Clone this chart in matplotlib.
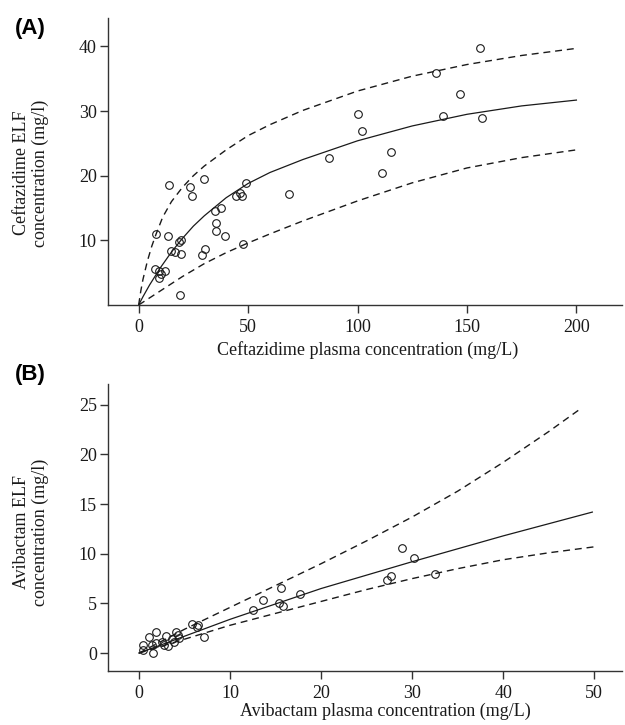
import matplotlib
matplotlib.use("Agg")
import matplotlib.pyplot as plt

plt.rcParams["font.family"] = ["Liberation Serif", "DejaVu Serif"]

# Panel A: ceftazidime observations (plasma, ELF)
cef_plasma = [13.7, 23.3, 29.8, 24.3, 49.2, 44.4, 46.4, 47.3, 68.9, 34.9,
              37.7, 35.4, 35.2, 39.6, 8.1, 13.4, 19.2, 18.3, 14.8, 16.6,
              19.2, 30.3, 28.9, 47.8, 7.3, 9.3, 11.9, 9.3, 10.2, 18.9,
              86.9, 100.1, 102.1, 115.1, 111.1, 135.9, 147.0, 139.1, 155.8, 156.9]
cef_elf = [18.5, 18.3, 19.5, 16.9, 18.9, 16.9, 17.4, 16.9, 17.2, 14.5,
           15.0, 12.7, 11.5, 10.6, 11.0, 10.7, 10.0, 9.7, 8.4, 8.2,
           7.9, 8.7, 7.8, 9.4, 5.5, 5.2, 5.3, 4.2, 4.8, 1.5,
           22.7, 29.5, 26.9, 23.7, 20.4, 35.9, 32.7, 29.3, 39.7, 28.9]

# Panel A: fitted median and 90% interval curves
cef_med_x = [0, 2, 5, 10, 15, 20, 25, 30, 40, 50, 60, 75, 100, 125, 150, 175, 200]
cef_med_y = [0, 1.3, 3.1, 5.8, 8.2, 10.3, 12.2, 13.8, 16.6, 18.8, 20.5, 22.5,
             25.4, 27.7, 29.5, 30.8, 31.7]
cef_hi_x = [0, 1, 2, 4, 6, 8, 11, 15, 20, 25, 30, 40, 50, 60, 75, 100, 125, 150, 175, 200]
cef_hi_y = [0, 2.2, 4.0, 6.8, 9.1, 11.0, 13.6, 16.0, 18.2, 20.0, 21.5, 24.0,
            26.2, 27.9, 30.1, 33.1, 35.4, 37.2, 38.6, 39.7]
cef_lo_x = [0, 10, 20, 30, 40, 50, 60, 75, 100, 125, 150, 175, 200]
cef_lo_y = [0, 2.2, 4.4, 6.4, 8.1, 9.6, 11.0, 13.0, 16.1, 18.9, 21.2, 22.8, 24.0]

# Panel B: avibactam observations (plasma, ELF)
avi_plasma = [0.47, 0.4, 1.1, 1.9, 1.5, 1.4, 1.9, 2.5, 2.7, 3.0,
              3.2, 3.6, 4.1, 4.3, 4.4, 3.8, 5.8, 6.4, 6.5, 7.1,
              12.5, 13.6, 15.6, 15.4, 15.8, 17.7, 28.9, 30.2, 27.3, 27.7, 32.5]
avi_elf = [0.81, 0.3, 1.6, 2.1, 0.0, 0.8, 1.0, 1.1, 0.8, 1.7,
           0.7, 1.4, 2.1, 1.8, 1.5, 1.1, 2.9, 2.6, 2.8, 1.6,
           4.3, 5.3, 6.6, 5.0, 4.7, 6.0, 10.6, 9.6, 7.4, 7.8, 8.0]

# Panel B: fitted median and 90% interval curves
avi_med_x = [0, 10, 20, 30, 40, 49.8]
avi_med_y = [0, 3.4, 6.5, 9.2, 11.8, 14.2]
avi_hi_x = [0, 5, 10, 15, 20, 25, 30, 35, 40, 45, 48.5]
avi_hi_y = [0, 2.4, 4.6, 6.8, 9.0, 11.3, 13.7, 16.3, 19.2, 22.3, 24.6]
avi_lo_x = [0, 5, 10, 15, 20, 25, 30, 35, 40, 45, 50]
avi_lo_y = [0, 1.4, 2.8, 4.0, 5.2, 6.4, 7.5, 8.5, 9.4, 10.1, 10.7]

INK = "#1a1a1a"
FS = 13


def style_axes(ax):
    for side in ["top", "right"]:
        ax.spines[side].set_visible(False)
    for side in ["left", "bottom"]:
        ax.spines[side].set_color("#333333")
        ax.spines[side].set_linewidth(1.0)
    ax.tick_params(direction="out", length=6, width=1.0, color="#333333",
                   labelsize=FS, labelcolor=INK)
    ax.tick_params(axis="x", pad=4)
    ax.tick_params(axis="y", pad=2)


def draw_panel(ax, px, py, med, hi, lo):
    ax.plot(med[0], med[1], color=INK, lw=0.9)
    ax.plot(hi[0], hi[1], color=INK, lw=1.0, dashes=(5, 3.5))
    ax.plot(lo[0], lo[1], color=INK, lw=1.0, dashes=(5, 3.5))
    ax.plot(px, py, "o", ms=5.5, mfc="none", mec=INK, mew=0.8, ls="none")


fig = plt.figure(figsize=(6.25, 7.25), dpi=100)

# (A) ceftazidime
ax1 = fig.add_axes([0.1728, 0.5793, 0.823, 0.3959])
draw_panel(ax1, cef_plasma, cef_elf, (cef_med_x, cef_med_y),
           (cef_hi_x, cef_hi_y), (cef_lo_x, cef_lo_y))
ax1.set_xlim(-14, 221)
ax1.set_ylim(0, 44.4)
ax1.set_xticks([0, 50, 100, 150, 200])
ax1.set_yticks([10, 20, 30, 40])
style_axes(ax1)
ax1.set_xlabel("Ceftazidime plasma concentration (mg/L)", fontsize=FS, color=INK)
ax1.xaxis.set_label_coords(0.505, -0.157)
ax1.xaxis.label.set_va("center")
ax1.set_ylabel("Ceftazidime ELF\nconcentration (mg/l)", fontsize=FS, color=INK,
               linespacing=1.1)
ax1.yaxis.set_label_coords(-0.150, 0.46)
ax1.yaxis.label.set_va("center")

# (B) avibactam
ax2 = fig.add_axes([0.1728, 0.0745, 0.823, 0.3959])
draw_panel(ax2, avi_plasma, avi_elf, (avi_med_x, avi_med_y),
           (avi_hi_x, avi_hi_y), (avi_lo_x, avi_lo_y))
ax2.set_xlim(-3.4, 53.1)
ax2.set_ylim(-1.8, 27.1)
ax2.set_xticks([0, 10, 20, 30, 40, 50])
ax2.set_yticks([0, 5, 10, 15, 20, 25])
style_axes(ax2)
ax2.set_xlabel("Avibactam plasma concentration (mg/L)", fontsize=FS, color=INK)
ax2.xaxis.set_label_coords(0.539, -0.14)
ax2.xaxis.label.set_va("center")
ax2.set_ylabel("Avibactam ELF\nconcentration (mg/l)", fontsize=FS, color=INK,
               linespacing=1.1)
ax2.yaxis.set_label_coords(-0.150, 0.484)
ax2.yaxis.label.set_va("center")

# panel letters
fig.text(0.024, 0.961, "(A)", fontsize=16, fontweight="bold",
         family="Liberation Sans", va="center", ha="left", color="black")
fig.text(0.024, 0.484, "(B)", fontsize=16, fontweight="bold",
         family="Liberation Sans", va="center", ha="left", color="black")

fig.savefig("out.png", dpi=100)
